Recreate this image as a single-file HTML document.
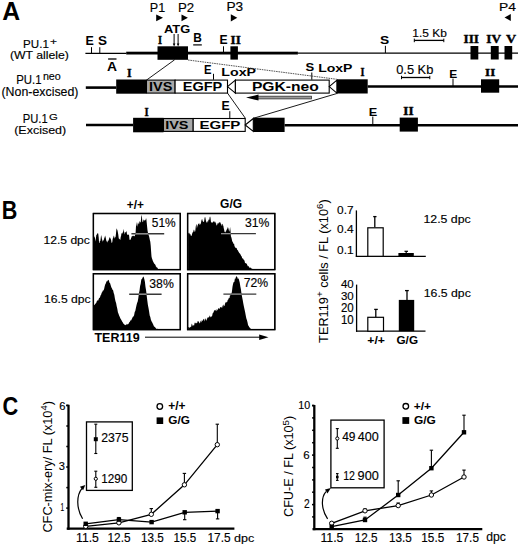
<!DOCTYPE html>
<html><head><meta charset="utf-8"><style>
html,body{margin:0;padding:0;background:#fff;}
body{width:520px;height:546px;overflow:hidden;}
svg{display:block;}

</style></head><body>
<svg width="520" height="546" viewBox="0 0 520 546">
<rect width="520" height="546" fill="#fff"/>
<text x="2.30" y="20.20" font-family='"Liberation Sans", sans-serif' font-size="26.31" font-weight="bold" fill="#000" textLength="17.90" lengthAdjust="spacingAndGlyphs" >A</text>
<text x="149.80" y="11.50" font-family='"Liberation Sans", sans-serif' font-size="12.5" font-weight="normal" fill="#000" textLength="15.40" lengthAdjust="spacingAndGlyphs"  stroke="#000" stroke-width="0.15" stroke-linejoin="round">P1</text>
<text x="178.00" y="11.50" font-family='"Liberation Sans", sans-serif' font-size="12.32" font-weight="normal" fill="#000" textLength="16.20" lengthAdjust="spacingAndGlyphs"  stroke="#000" stroke-width="0.15" stroke-linejoin="round">P2</text>
<text x="226.40" y="11.08" font-family='"Liberation Sans", sans-serif' font-size="12.01" font-weight="normal" fill="#000" textLength="16.70" lengthAdjust="spacingAndGlyphs"  stroke="#000" stroke-width="0.15" stroke-linejoin="round">P3</text>
<text x="499.10" y="10.80" font-family='"Liberation Sans", sans-serif' font-size="11.34" font-weight="normal" fill="#000" textLength="16.90" lengthAdjust="spacingAndGlyphs"  stroke="#000" stroke-width="0.15" stroke-linejoin="round">P4</text>
<path d="M156.2,14.4 L163.0,17.85 L156.2,21.3 Z" fill="#000" stroke="none" stroke-width="1" />
<path d="M181.5,14.4 L187.9,17.85 L181.5,21.3 Z" fill="#000" stroke="none" stroke-width="1" />
<path d="M230.8,14.2 L237.3,17.85 L230.8,21.5 Z" fill="#000" stroke="none" stroke-width="1" />
<path d="M510.8,14.1 L504.5,17.5 L510.8,20.9 Z" fill="#000" stroke="none" stroke-width="1" />
<text x="164.00" y="32.59" font-family='"Liberation Sans", sans-serif' font-size="11.44" font-weight="bold" fill="#000" textLength="26.20" lengthAdjust="spacingAndGlyphs" >ATG</text>
<line x1="174.10" y1="34.00" x2="174.10" y2="44.50" stroke="#000" stroke-width="1.0" />
<line x1="178.10" y1="34.00" x2="178.10" y2="44.50" stroke="#000" stroke-width="1.0" />
<path d="M172.8,43.6 L175.4,43.6 L174.1,46.5 Z" fill="#000" stroke="none" stroke-width="1" />
<path d="M176.8,43.6 L179.4,43.6 L178.1,46.5 Z" fill="#000" stroke="none" stroke-width="1" />
<line x1="85.40" y1="53.40" x2="126.20" y2="53.40" stroke="#000" stroke-width="1.2" />
<rect x="126.20" y="51.70" width="171.70" height="2.80" fill="#000"/>
<line x1="297.90" y1="53.10" x2="518.00" y2="53.10" stroke="#000" stroke-width="1.2" />
<line x1="91.50" y1="47.20" x2="91.50" y2="53.50" stroke="#000" stroke-width="1" />
<line x1="99.80" y1="47.20" x2="99.80" y2="53.50" stroke="#000" stroke-width="1" />
<line x1="223.50" y1="46.30" x2="223.50" y2="53.00" stroke="#000" stroke-width="1" />
<line x1="385.40" y1="45.80" x2="385.40" y2="53.00" stroke="#000" stroke-width="1" />
<text x="85.50" y="45.20" font-family='"Liberation Sans", sans-serif' font-size="12.79" font-weight="bold" fill="#000" textLength="8.30" lengthAdjust="spacingAndGlyphs" >E</text>
<text x="98.00" y="45.27" font-family='"Liberation Sans", sans-serif' font-size="12.99" font-weight="bold" fill="#000" textLength="9.00" lengthAdjust="spacingAndGlyphs" >S</text>
<rect x="157.50" y="46.30" width="30.50" height="13.50" fill="#000"/>
<rect x="230.40" y="46.30" width="7.50" height="13.30" fill="#000"/>
<rect x="470.50" y="46.00" width="7.80" height="13.50" fill="#000"/>
<rect x="490.80" y="46.00" width="7.90" height="13.50" fill="#000"/>
<rect x="504.50" y="46.00" width="7.70" height="13.50" fill="#000"/>
<text x="157.90" y="43.70" font-family='"Liberation Serif", serif' font-size="11.45" font-weight="bold" fill="#000" textLength="4.00" lengthAdjust="spacingAndGlyphs"  stroke="#000" stroke-width="0.4" stroke-linejoin="round">I</text>
<text x="193.20" y="42.30" font-family='"Liberation Sans", sans-serif' font-size="12.5" font-weight="bold" fill="#000" textLength="8.60" lengthAdjust="spacingAndGlyphs" >B</text>
<line x1="193.20" y1="44.90" x2="201.80" y2="44.90" stroke="#000" stroke-width="1.2" />
<text x="219.40" y="44.40" font-family='"Liberation Sans", sans-serif' font-size="12.21" font-weight="bold" fill="#000" textLength="8.10" lengthAdjust="spacingAndGlyphs" >E</text>
<text x="230.60" y="44.00" font-family='"Liberation Serif", serif' font-size="13.13" font-weight="bold" fill="#000" textLength="10.20" lengthAdjust="spacingAndGlyphs"  stroke="#000" stroke-width="0.4" stroke-linejoin="round">II</text>
<text x="380.00" y="44.29" font-family='"Liberation Sans", sans-serif' font-size="11.44" font-weight="bold" fill="#000" textLength="9.20" lengthAdjust="spacingAndGlyphs" >S</text>
<text x="412.30" y="36.89" font-family='"Liberation Sans", sans-serif' font-size="11.16" font-weight="normal" fill="#000" textLength="34.60" lengthAdjust="spacingAndGlyphs"  stroke="#000" stroke-width="0.15" stroke-linejoin="round">1.5 Kb</text>
<line x1="414.30" y1="40.40" x2="443.80" y2="40.40" stroke="#000" stroke-width="1.3" />
<line x1="414.30" y1="38.60" x2="414.30" y2="42.20" stroke="#000" stroke-width="1" />
<line x1="443.80" y1="38.60" x2="443.80" y2="42.20" stroke="#000" stroke-width="1" />
<text x="463.50" y="43.30" font-family='"Liberation Serif", serif' font-size="13.13" font-weight="bold" fill="#000" textLength="15.51" lengthAdjust="spacingAndGlyphs"  stroke="#000" stroke-width="0.4" stroke-linejoin="round">III</text>
<text x="486.30" y="43.11" font-family='"Liberation Serif", serif' font-size="12.84" font-weight="bold" fill="#000" textLength="14.80" lengthAdjust="spacingAndGlyphs"  stroke="#000" stroke-width="0.4" stroke-linejoin="round">IV</text>
<text x="505.90" y="43.11" font-family='"Liberation Serif", serif' font-size="12.84" font-weight="bold" fill="#000" textLength="10.10" lengthAdjust="spacingAndGlyphs"  stroke="#000" stroke-width="0.4" stroke-linejoin="round">V</text>
<text x="23.10" y="48.19" font-family='"Liberation Sans", sans-serif' font-size="11.03" font-weight="normal" fill="#000" textLength="25.80" lengthAdjust="spacingAndGlyphs"  stroke="#000" stroke-width="0.15" stroke-linejoin="round">PU.1</text>
<text x="50.00" y="45.20" font-family='"Liberation Sans", sans-serif' font-size="9.36" font-weight="normal" fill="#000" textLength="7.00" lengthAdjust="spacingAndGlyphs"  stroke="#000" stroke-width="0.15" stroke-linejoin="round">+</text>
<text x="10.00" y="59.18" font-family='"Liberation Sans", sans-serif' font-size="10.73" font-weight="normal" fill="#000" textLength="58.91" lengthAdjust="spacingAndGlyphs"  stroke="#000" stroke-width="0.15" stroke-linejoin="round">(WT allele)</text>
<text x="107.10" y="70.80" font-family='"Liberation Sans", sans-serif' font-size="13.23" font-weight="bold" fill="#000" textLength="10.00" lengthAdjust="spacingAndGlyphs" >A</text>
<line x1="108.10" y1="59.00" x2="116.50" y2="59.00" stroke="#000" stroke-width="1.3" />
<text x="126.90" y="76.70" font-family='"Liberation Serif", serif' font-size="12.98" font-weight="bold" fill="#000" textLength="4.60" lengthAdjust="spacingAndGlyphs"  stroke="#000" stroke-width="0.4" stroke-linejoin="round">I</text>
<line x1="85.80" y1="87.60" x2="116.20" y2="87.60" stroke="#000" stroke-width="2.6" />
<rect x="116.20" y="79.50" width="30.30" height="14.20" fill="#000"/>
<rect x="146.50" y="80.10" width="28.60" height="13.00" fill="#a9a9a9" stroke="#000" stroke-width="1.1"/>
<rect x="175.10" y="80.10" width="52.40" height="13.00" fill="#fff" stroke="#000" stroke-width="1.1"/>
<text x="149.00" y="90.88" font-family='"Liberation Sans", sans-serif' font-size="12.01" font-weight="bold" fill="#000" textLength="23.30" lengthAdjust="spacingAndGlyphs" >IVS</text>
<text x="182.70" y="90.88" font-family='"Liberation Sans", sans-serif' font-size="12.29" font-weight="bold" fill="#000" textLength="39.60" lengthAdjust="spacingAndGlyphs" >EGFP</text>
<path d="M227.5,86.6 L235.4,80.1 L235.4,93.1 Z" fill="#fff" stroke="#000" stroke-width="1.1" />
<rect x="235.40" y="80.10" width="93.80" height="13.00" fill="#fff" stroke="#000" stroke-width="1.1"/>
<path d="M329.2,86.6 L336.9,80.1 L336.9,93.1 Z" fill="#fff" stroke="#000" stroke-width="1.1" />
<text x="251.90" y="91.07" font-family='"Liberation Sans", sans-serif' font-size="13.14" font-weight="bold" fill="#000" textLength="66.90" lengthAdjust="spacingAndGlyphs" >PGK-neo</text>
<rect x="336.90" y="79.30" width="30.80" height="14.20" fill="#000"/>
<line x1="367.70" y1="86.50" x2="518.00" y2="86.50" stroke="#000" stroke-width="2.6" />
<text x="204.00" y="73.80" font-family='"Liberation Sans", sans-serif' font-size="12.5" font-weight="bold" fill="#000" textLength="7.50" lengthAdjust="spacingAndGlyphs" >E</text>
<line x1="213.50" y1="73.80" x2="213.50" y2="79.70" stroke="#000" stroke-width="1" />
<text x="221.30" y="76.08" font-family='"Liberation Sans", sans-serif' font-size="11.6" font-weight="bold" fill="#000" textLength="34.70" lengthAdjust="spacingAndGlyphs" >LoxP</text>
<text x="305.40" y="71.39" font-family='"Liberation Sans", sans-serif' font-size="11.44" font-weight="bold" fill="#000" textLength="8.70" lengthAdjust="spacingAndGlyphs" >S</text>
<line x1="311.80" y1="72.50" x2="311.80" y2="79.70" stroke="#000" stroke-width="1" />
<text x="318.20" y="71.99" font-family='"Liberation Sans", sans-serif' font-size="11.46" font-weight="bold" fill="#000" textLength="34.30" lengthAdjust="spacingAndGlyphs" >LoxP</text>
<text x="360.60" y="76.20" font-family='"Liberation Serif", serif' font-size="12.37" font-weight="bold" fill="#000" textLength="4.00" lengthAdjust="spacingAndGlyphs"  stroke="#000" stroke-width="0.4" stroke-linejoin="round">I</text>
<text x="396.20" y="73.87" font-family='"Liberation Sans", sans-serif' font-size="12.52" font-weight="normal" fill="#000" textLength="37.10" lengthAdjust="spacingAndGlyphs"  stroke="#000" stroke-width="0.15" stroke-linejoin="round">0.5 Kb</text>
<line x1="401.50" y1="77.50" x2="429.80" y2="77.50" stroke="#000" stroke-width="1.3" />
<line x1="401.50" y1="75.80" x2="401.50" y2="79.20" stroke="#000" stroke-width="1" />
<line x1="429.80" y1="75.80" x2="429.80" y2="79.20" stroke="#000" stroke-width="1" />
<text x="449.20" y="77.90" font-family='"Liberation Sans", sans-serif' font-size="11.77" font-weight="bold" fill="#000" textLength="8.00" lengthAdjust="spacingAndGlyphs" >E</text>
<line x1="453.00" y1="78.60" x2="453.00" y2="86.00" stroke="#000" stroke-width="1" />
<text x="485.10" y="75.90" font-family='"Liberation Serif", serif' font-size="11.3" font-weight="bold" fill="#000" textLength="10.10" lengthAdjust="spacingAndGlyphs"  stroke="#000" stroke-width="0.4" stroke-linejoin="round">II</text>
<rect x="481.00" y="79.30" width="18.20" height="13.40" fill="#000"/>
<rect x="257.00" y="96.20" width="54.50" height="2.70" fill="#9a9a9a" stroke="#333" stroke-width="0.8"/>
<path d="M246.0,97.6 L258.5,94.6 L258.5,100.6 Z" fill="#000" stroke="none" stroke-width="1" />
<text x="16.20" y="83.68" font-family='"Liberation Sans", sans-serif' font-size="12.03" font-weight="normal" fill="#000" textLength="25.30" lengthAdjust="spacingAndGlyphs"  stroke="#000" stroke-width="0.15" stroke-linejoin="round">PU.1</text>
<text x="42.90" y="80.09" font-family='"Liberation Sans", sans-serif' font-size="10.95" font-weight="normal" fill="#000" textLength="17.91" lengthAdjust="spacingAndGlyphs"  stroke="#000" stroke-width="0.15" stroke-linejoin="round">neo</text>
<text x="1.50" y="95.86" font-family='"Liberation Sans", sans-serif' font-size="12.77" font-weight="normal" fill="#000" textLength="77.00" lengthAdjust="spacingAndGlyphs"  stroke="#000" stroke-width="0.15" stroke-linejoin="round">(Non-excised)</text>
<line x1="174.60" y1="59.80" x2="146.50" y2="80.10" stroke="#000" stroke-width="0.9" />
<line x1="188.00" y1="60.00" x2="336.90" y2="79.30" stroke="#444" stroke-width="0.9" stroke-dasharray="1.6,0.8"/>
<line x1="227.50" y1="93.10" x2="245.40" y2="118.30" stroke="#000" stroke-width="0.9" />
<line x1="336.90" y1="93.50" x2="253.30" y2="118.30" stroke="#000" stroke-width="0.9" />
<line x1="86.00" y1="124.90" x2="133.10" y2="124.90" stroke="#000" stroke-width="2.5" />
<rect x="133.10" y="117.80" width="30.40" height="14.50" fill="#000"/>
<rect x="163.50" y="118.50" width="29.70" height="12.90" fill="#a9a9a9" stroke="#000" stroke-width="1.1"/>
<rect x="193.20" y="118.50" width="52.00" height="12.90" fill="#fff" stroke="#000" stroke-width="1.1"/>
<text x="165.20" y="128.78" font-family='"Liberation Sans", sans-serif' font-size="11.72" font-weight="bold" fill="#000" textLength="23.30" lengthAdjust="spacingAndGlyphs" >IVS</text>
<text x="199.40" y="128.78" font-family='"Liberation Sans", sans-serif' font-size="11.72" font-weight="bold" fill="#000" textLength="41.00" lengthAdjust="spacingAndGlyphs" >EGFP</text>
<path d="M245.2,125 L253.3,118.5 L253.3,131.4 Z" fill="#fff" stroke="#000" stroke-width="1.1" />
<rect x="253.30" y="117.70" width="31.30" height="14.30" fill="#000"/>
<line x1="284.60" y1="125.20" x2="518.00" y2="125.20" stroke="#000" stroke-width="2.5" />
<text x="144.60" y="116.30" font-family='"Liberation Serif", serif' font-size="13.13" font-weight="bold" fill="#000" textLength="4.20" lengthAdjust="spacingAndGlyphs"  stroke="#000" stroke-width="0.4" stroke-linejoin="round">I</text>
<text x="221.40" y="109.80" font-family='"Liberation Sans", sans-serif' font-size="12.79" font-weight="bold" fill="#000" textLength="8.20" lengthAdjust="spacingAndGlyphs" >E</text>
<line x1="229.80" y1="111.20" x2="229.80" y2="118.50" stroke="#000" stroke-width="1" />
<text x="368.70" y="115.90" font-family='"Liberation Sans", sans-serif' font-size="11.34" font-weight="bold" fill="#000" textLength="8.50" lengthAdjust="spacingAndGlyphs" >E</text>
<line x1="372.80" y1="116.60" x2="372.80" y2="125.00" stroke="#000" stroke-width="1" />
<text x="403.30" y="115.10" font-family='"Liberation Serif", serif' font-size="11.76" font-weight="bold" fill="#000" textLength="10.30" lengthAdjust="spacingAndGlyphs"  stroke="#000" stroke-width="0.4" stroke-linejoin="round">II</text>
<rect x="399.70" y="117.60" width="18.20" height="14.00" fill="#000"/>
<text x="22.80" y="123.27" font-family='"Liberation Sans", sans-serif' font-size="12.61" font-weight="normal" fill="#000" textLength="24.90" lengthAdjust="spacingAndGlyphs"  stroke="#000" stroke-width="0.15" stroke-linejoin="round">PU.1</text>
<text x="48.90" y="119.91" font-family='"Liberation Sans", sans-serif' font-size="9.18" font-weight="normal" fill="#000" textLength="8.80" lengthAdjust="spacingAndGlyphs"  stroke="#000" stroke-width="0.15" stroke-linejoin="round">G</text>
<text x="14.20" y="133.98" font-family='"Liberation Sans", sans-serif' font-size="10.73" font-weight="normal" fill="#000" textLength="51.99" lengthAdjust="spacingAndGlyphs"  stroke="#000" stroke-width="0.15" stroke-linejoin="round">(Excised)</text>
<text x="1.70" y="219.20" font-family='"Liberation Sans", sans-serif' font-size="26.02" font-weight="bold" fill="#000" textLength="15.60" lengthAdjust="spacingAndGlyphs" >B</text>
<text x="126.80" y="208.76" font-family='"Liberation Sans", sans-serif' font-size="12.08" font-weight="bold" fill="#000" textLength="17.10" lengthAdjust="spacingAndGlyphs" >+/+</text>
<text x="220.10" y="208.46" font-family='"Liberation Sans", sans-serif' font-size="12.21" font-weight="bold" fill="#000" textLength="22.01" lengthAdjust="spacingAndGlyphs" >G/G</text>
<text x="43.50" y="243.66" font-family='"Liberation Sans", sans-serif' font-size="11.25" font-weight="normal" fill="#000" textLength="46.41" lengthAdjust="spacingAndGlyphs"  stroke="#000" stroke-width="0.15" stroke-linejoin="round">12.5 dpc</text>
<text x="44.10" y="302.94" font-family='"Liberation Sans", sans-serif' font-size="11.36" font-weight="normal" fill="#000" textLength="46.51" lengthAdjust="spacingAndGlyphs"  stroke="#000" stroke-width="0.15" stroke-linejoin="round">16.5 dpc</text>
<text x="94.50" y="341.67" font-family='"Liberation Sans", sans-serif' font-size="12.57" font-weight="bold" fill="#000" textLength="45.10" lengthAdjust="spacingAndGlyphs" >TER119</text>
<line x1="145.00" y1="337.20" x2="262.00" y2="337.20" stroke="#000" stroke-width="1.0" />
<path d="M268.5,337.3 L259.2,334.6 L259.2,340.0 Z" fill="#000" stroke="none" stroke-width="1" />
<rect x="93.4" y="213.5" width="86.9" height="56.10000000000002" fill="#fff" stroke="#000" stroke-width="1.3"/>
<rect x="187.6" y="213.5" width="87.20000000000002" height="56.10000000000002" fill="#fff" stroke="#000" stroke-width="1.3"/>
<rect x="93.4" y="273.7" width="86.9" height="55.900000000000034" fill="#fff" stroke="#000" stroke-width="1.3"/>
<rect x="187.6" y="273.7" width="87.20000000000002" height="55.900000000000034" fill="#fff" stroke="#000" stroke-width="1.3"/>
<path d="M93.9,269.6 L93.90,236.34 L94.30,236.57 L94.70,237.37 L95.10,238.51 L95.50,241.46 L95.90,238.78 L96.30,235.05 L96.70,234.80 L97.10,234.09 L97.50,233.48 L97.90,232.80 L98.30,234.11 L98.70,237.51 L99.10,242.95 L99.50,243.07 L99.90,240.83 L100.30,241.14 L100.70,238.37 L101.10,234.96 L101.50,236.53 L101.90,238.63 L102.30,240.12 L102.70,241.74 L103.10,240.86 L103.50,240.31 L103.90,239.59 L104.30,237.89 L104.70,237.21 L105.10,235.53 L105.50,236.82 L105.90,238.56 L106.30,240.53 L106.70,241.19 L107.10,242.51 L107.50,242.02 L107.90,240.57 L108.30,241.10 L108.70,240.11 L109.10,238.80 L109.50,237.54 L109.90,237.16 L110.30,237.94 L110.70,239.03 L111.10,239.75 L111.50,242.55 L111.90,243.02 L112.30,241.92 L112.70,238.83 L113.10,238.01 L113.50,236.44 L113.90,235.52 L114.30,236.93 L114.70,238.64 L115.10,237.07 L115.50,237.60 L115.90,234.34 L116.30,230.28 L116.70,228.16 L117.10,229.38 L117.50,230.56 L117.90,232.46 L118.30,234.85 L118.70,237.95 L119.10,239.21 L119.50,238.57 L119.90,239.62 L120.30,240.06 L120.70,237.01 L121.10,235.67 L121.50,232.83 L121.90,233.67 L122.30,233.42 L122.70,232.43 L123.10,231.90 L123.50,228.86 L123.90,231.24 L124.30,232.32 L124.70,234.40 L125.10,232.86 L125.50,231.90 L125.90,232.36 L126.30,230.91 L126.70,231.93 L127.10,235.33 L127.50,234.60 L127.90,234.38 L128.30,234.78 L128.70,234.41 L129.10,235.43 L129.50,239.60 L129.90,240.11 L130.30,239.45 L130.70,239.82 L131.10,238.06 L131.50,237.19 L131.90,235.90 L132.30,235.66 L132.70,236.46 L133.10,235.57 L133.50,236.36 L133.90,235.86 L134.30,235.89 L134.70,236.42 L135.10,234.79 L135.50,234.40 L135.90,227.85 L136.30,221.83 L136.70,225.30 L137.10,226.64 L137.50,224.84 L137.90,222.49 L138.30,222.76 L138.70,224.37 L139.10,223.92 L139.50,220.96 L139.90,221.80 L140.30,222.33 L140.70,222.40 L141.10,218.52 L141.50,214.64 L141.90,216.38 L142.30,220.89 L142.70,222.36 L143.10,221.83 L143.50,219.29 L143.90,220.15 L144.30,220.45 L144.70,220.59 L145.10,219.81 L145.50,220.48 L145.90,218.59 L146.30,218.54 L146.70,222.47 L147.10,226.58 L147.50,230.17 L147.90,232.56 L148.30,234.61 L148.70,235.36 L149.10,236.45 L149.50,238.23 L149.90,240.27 L150.30,241.86 L150.70,245.62 L151.10,251.17 L151.50,256.60 L151.90,258.23 L152.30,259.30 L152.70,260.61 L153.10,261.57 L153.50,262.20 L153.90,263.11 L154.30,263.66 L154.70,263.95 L155.10,264.50 L155.50,265.12 L155.90,266.47 L156.30,266.86 L156.70,267.53 L157.10,267.25 L157.50,268.21 L157.90,268.56 L158.30,269.23 L158.70,269.02 L159.10,269.58 L159.50,268.85 L159.90,269.24 L160.30,269.40 L160.70,269.54 L161.10,269.42 L161.50,269.41 L161.90,269.49 L162.30,269.60 L162.70,269.16 L163.10,269.44 L163.50,269.60 L163.90,269.60 L164.30,269.26 L164.70,269.57 L165.10,269.60 L165.50,269.41 L165.90,269.47 L166.30,269.28 L166.70,269.45 L167.10,269.49 L167.50,269.07 L167.90,269.53 L168.30,269.60 L168.70,269.60 L169.10,269.60 L169.50,269.37 L169.90,269.60 L170.30,269.55 L170.70,269.45 L171.10,269.60 L171.50,269.19 L171.90,269.60 L172.30,269.16 L172.70,269.60 L173.10,269.55 L173.50,269.36 L173.90,269.60 L174.30,269.59 L174.70,269.60 L175.10,269.60 L175.50,269.43 L175.90,269.25 L176.30,269.49 L176.70,269.60 L177.10,269.43 L177.50,269.42 L177.90,269.60 L178.30,269.60 L178.70,269.60 L179.10,269.60 L179.50,269.60 L179.8,269.6 Z" fill="#000"/>
<path d="M188.1,269.6 L188.10,233.05 L188.50,232.68 L188.90,233.83 L189.30,232.60 L189.70,234.14 L190.10,234.28 L190.50,234.27 L190.90,236.06 L191.30,235.82 L191.70,235.65 L192.10,233.81 L192.50,232.68 L192.90,232.09 L193.30,231.66 L193.70,229.80 L194.10,229.71 L194.50,230.91 L194.90,232.13 L195.30,230.85 L195.70,227.01 L196.10,224.85 L196.50,223.96 L196.90,228.43 L197.30,226.38 L197.70,225.26 L198.10,224.26 L198.50,223.60 L198.90,223.64 L199.30,223.13 L199.70,224.90 L200.10,224.86 L200.50,223.75 L200.90,223.42 L201.30,221.04 L201.70,219.71 L202.10,218.72 L202.50,220.54 L202.90,221.45 L203.30,221.79 L203.70,222.11 L204.10,221.54 L204.50,218.56 L204.90,217.01 L205.30,217.19 L205.70,219.62 L206.10,221.59 L206.50,222.01 L206.90,223.04 L207.30,222.19 L207.70,220.70 L208.10,221.80 L208.50,219.50 L208.90,219.76 L209.30,219.65 L209.70,216.99 L210.10,216.42 L210.50,217.74 L210.90,221.43 L211.30,222.44 L211.70,222.30 L212.10,223.25 L212.50,222.11 L212.90,222.45 L213.30,221.74 L213.70,221.22 L214.10,221.09 L214.50,222.09 L214.90,222.47 L215.30,221.58 L215.70,223.23 L216.10,223.14 L216.50,225.78 L216.90,224.97 L217.30,224.41 L217.70,223.18 L218.10,222.52 L218.50,223.26 L218.90,223.71 L219.30,221.89 L219.70,222.46 L220.10,222.08 L220.50,222.91 L220.90,223.73 L221.30,226.23 L221.70,224.30 L222.10,224.04 L222.50,223.83 L222.90,225.87 L223.30,225.61 L223.70,227.89 L224.10,229.58 L224.50,231.78 L224.90,232.01 L225.30,232.48 L225.70,231.57 L226.10,231.35 L226.50,229.81 L226.90,229.55 L227.30,228.71 L227.70,227.17 L228.10,227.47 L228.50,228.85 L228.90,230.45 L229.30,231.68 L229.70,229.79 L230.10,226.96 L230.50,230.57 L230.90,236.20 L231.30,237.25 L231.70,238.84 L232.10,240.86 L232.50,241.70 L232.90,242.19 L233.30,243.17 L233.70,244.08 L234.10,243.78 L234.50,246.13 L234.90,246.75 L235.30,247.60 L235.70,247.98 L236.10,247.77 L236.50,248.36 L236.90,248.56 L237.30,250.24 L237.70,249.94 L238.10,250.67 L238.50,251.65 L238.90,252.21 L239.30,253.14 L239.70,253.23 L240.10,253.74 L240.50,254.62 L240.90,255.14 L241.30,256.21 L241.70,256.19 L242.10,258.31 L242.50,258.43 L242.90,258.18 L243.30,258.96 L243.70,259.72 L244.10,260.35 L244.50,260.50 L244.90,262.40 L245.30,263.25 L245.70,262.91 L246.10,263.56 L246.50,263.46 L246.90,264.11 L247.30,265.16 L247.70,265.64 L248.10,266.95 L248.50,266.04 L248.90,266.09 L249.30,268.05 L249.70,267.59 L250.10,267.38 L250.50,267.79 L250.90,267.74 L251.30,268.20 L251.70,268.64 L252.10,268.79 L252.50,268.92 L252.90,268.92 L253.30,269.18 L253.70,269.14 L254.10,269.45 L254.50,269.34 L254.90,269.47 L255.30,269.25 L255.70,269.20 L256.10,269.51 L256.50,269.60 L256.90,269.54 L257.30,269.53 L257.70,269.54 L258.10,269.51 L258.50,269.26 L258.90,269.41 L259.30,269.34 L259.70,269.18 L260.10,269.19 L260.50,269.32 L260.90,269.32 L261.30,269.54 L261.70,269.60 L262.10,269.44 L262.50,269.60 L262.90,269.60 L263.30,269.60 L263.70,269.42 L264.10,269.36 L264.50,269.37 L264.90,269.36 L265.30,269.37 L265.70,269.59 L266.10,269.60 L266.50,269.60 L266.90,269.54 L267.30,269.60 L267.70,269.60 L268.10,269.37 L268.50,269.60 L268.90,269.60 L269.30,269.60 L269.70,269.60 L270.10,269.60 L270.50,269.46 L270.90,269.60 L271.30,269.55 L271.70,269.60 L272.10,269.60 L272.50,269.60 L272.90,269.60 L273.30,269.60 L273.70,269.60 L274.10,269.52 L274.3,269.6 Z" fill="#000"/>
<path d="M93.9,329.6 L93.90,305.25 L94.50,304.96 L95.10,303.89 L95.70,303.49 L96.30,302.77 L96.90,301.12 L97.50,300.29 L98.10,300.86 L98.70,299.02 L99.30,297.75 L99.90,297.73 L100.50,295.57 L101.10,294.74 L101.70,292.75 L102.30,292.05 L102.90,290.53 L103.50,290.56 L104.10,288.96 L104.70,286.18 L105.30,284.31 L105.90,283.21 L106.50,281.25 L107.10,281.44 L107.70,280.62 L108.30,279.87 L108.90,280.42 L109.50,282.75 L110.10,283.31 L110.70,285.29 L111.30,287.13 L111.90,288.28 L112.50,289.85 L113.10,290.24 L113.70,292.94 L114.30,294.82 L114.90,298.39 L115.50,301.15 L116.10,302.97 L116.70,306.14 L117.30,308.67 L117.90,312.26 L118.50,313.68 L119.10,315.58 L119.70,316.64 L120.30,318.37 L120.90,319.20 L121.50,320.17 L122.10,321.44 L122.70,322.20 L123.30,323.48 L123.90,323.88 L124.50,324.66 L125.10,324.84 L125.70,325.36 L126.30,324.69 L126.90,323.63 L127.50,324.50 L128.10,324.34 L128.70,323.52 L129.30,322.25 L129.90,321.75 L130.50,320.21 L131.10,320.44 L131.70,319.27 L132.30,318.05 L132.90,316.63 L133.50,316.52 L134.10,315.36 L134.70,311.98 L135.30,310.90 L135.90,308.05 L136.50,305.26 L137.10,303.09 L137.70,301.45 L138.30,298.19 L138.90,293.43 L139.50,290.73 L140.10,286.11 L140.70,283.69 L141.30,279.62 L141.90,278.93 L142.50,277.89 L143.10,276.42 L143.70,277.11 L144.30,278.96 L144.90,281.76 L145.50,286.91 L146.10,290.52 L146.70,295.75 L147.30,300.57 L147.90,304.90 L148.50,308.02 L149.10,311.55 L149.70,315.61 L150.30,316.97 L150.90,319.84 L151.50,321.36 L152.10,322.15 L152.70,323.56 L153.30,324.85 L153.90,326.25 L154.50,326.80 L155.10,327.37 L155.70,328.09 L156.30,329.11 L156.90,328.69 L157.50,328.84 L158.10,329.57 L158.70,329.07 L159.30,329.31 L159.90,329.60 L160.50,329.60 L161.10,329.60 L161.70,328.88 L162.30,329.53 L162.90,329.60 L163.50,328.92 L164.10,329.60 L164.70,329.60 L165.30,329.00 L165.90,329.60 L166.50,329.60 L167.10,329.60 L167.70,329.51 L168.30,329.60 L168.90,329.60 L169.50,329.00 L170.10,329.07 L170.70,329.60 L171.30,329.60 L171.90,329.40 L172.50,329.60 L173.10,329.60 L173.70,329.54 L174.30,329.60 L174.90,329.54 L175.50,329.60 L176.10,329.60 L176.70,329.55 L177.30,329.60 L177.90,329.60 L178.50,329.14 L179.10,329.60 L179.70,329.60 L179.8,329.6 Z" fill="#000"/>
<path d="M188.1,329.6 L188.10,327.05 L188.70,327.37 L189.30,327.46 L189.90,327.74 L190.50,326.72 L191.10,327.04 L191.70,323.60 L192.30,324.84 L192.90,326.23 L193.50,324.91 L194.10,325.50 L194.70,322.52 L195.30,323.54 L195.90,322.53 L196.50,323.35 L197.10,323.23 L197.70,321.04 L198.30,321.52 L198.90,321.52 L199.50,323.52 L200.10,322.78 L200.70,320.43 L201.30,322.44 L201.90,319.92 L202.50,321.37 L203.10,319.43 L203.70,318.72 L204.30,321.47 L204.90,318.87 L205.50,318.60 L206.10,320.66 L206.70,319.65 L207.30,316.98 L207.90,318.82 L208.50,317.05 L209.10,317.25 L209.70,315.31 L210.30,317.52 L210.90,316.20 L211.50,316.72 L212.10,316.03 L212.70,313.27 L213.30,312.70 L213.90,311.22 L214.50,310.36 L215.10,309.84 L215.70,310.44 L216.30,311.26 L216.90,308.85 L217.50,310.56 L218.10,308.72 L218.70,307.97 L219.30,309.23 L219.90,307.78 L220.50,306.95 L221.10,307.26 L221.70,307.74 L222.30,305.12 L222.90,307.98 L223.50,304.29 L224.10,306.04 L224.70,305.48 L225.30,301.70 L225.90,303.51 L226.50,301.74 L227.10,302.20 L227.70,299.92 L228.30,299.45 L228.90,297.75 L229.50,298.29 L230.10,294.54 L230.70,295.40 L231.30,294.90 L231.90,291.84 L232.50,286.65 L233.10,283.63 L233.70,281.90 L234.30,281.93 L234.90,278.41 L235.50,278.80 L236.10,276.25 L236.70,276.49 L237.30,277.14 L237.90,278.96 L238.50,278.20 L239.10,280.22 L239.70,282.54 L240.30,286.33 L240.90,289.35 L241.50,293.70 L242.10,296.88 L242.70,300.10 L243.30,303.53 L243.90,306.42 L244.50,309.20 L245.10,311.89 L245.70,315.19 L246.30,318.35 L246.90,319.96 L247.50,322.28 L248.10,325.17 L248.70,326.03 L249.30,327.29 L249.90,327.72 L250.50,328.61 L251.10,329.36 L251.70,329.39 L252.30,329.36 L252.90,328.93 L253.50,329.60 L254.10,328.92 L254.70,329.48 L255.30,329.60 L255.90,329.07 L256.50,329.60 L257.10,329.60 L257.70,329.60 L258.30,329.60 L258.90,329.09 L259.50,329.50 L260.10,329.16 L260.70,329.60 L261.30,329.36 L261.90,329.56 L262.50,329.60 L263.10,329.60 L263.70,329.60 L264.30,329.60 L264.90,329.60 L265.50,329.60 L266.10,329.60 L266.70,329.45 L267.30,329.59 L267.90,329.30 L268.50,329.58 L269.10,329.60 L269.70,329.60 L270.30,329.60 L270.90,329.60 L271.50,329.59 L272.10,329.30 L272.70,329.53 L273.30,329.60 L273.90,329.60 L274.3,329.6 Z" fill="#000"/>
<rect x="93.4" y="213.5" width="86.9" height="56.10000000000002" fill="none" stroke="#000" stroke-width="1.3"/>
<rect x="187.6" y="213.5" width="87.20000000000002" height="56.10000000000002" fill="none" stroke="#000" stroke-width="1.3"/>
<rect x="93.4" y="273.7" width="86.9" height="55.900000000000034" fill="none" stroke="#000" stroke-width="1.3"/>
<rect x="187.6" y="273.7" width="87.20000000000002" height="55.900000000000034" fill="none" stroke="#000" stroke-width="1.3"/>
<clipPath id="hc0"><path d="M93.9,269.6 L93.90,236.34 L94.30,236.57 L94.70,237.37 L95.10,238.51 L95.50,241.46 L95.90,238.78 L96.30,235.05 L96.70,234.80 L97.10,234.09 L97.50,233.48 L97.90,232.80 L98.30,234.11 L98.70,237.51 L99.10,242.95 L99.50,243.07 L99.90,240.83 L100.30,241.14 L100.70,238.37 L101.10,234.96 L101.50,236.53 L101.90,238.63 L102.30,240.12 L102.70,241.74 L103.10,240.86 L103.50,240.31 L103.90,239.59 L104.30,237.89 L104.70,237.21 L105.10,235.53 L105.50,236.82 L105.90,238.56 L106.30,240.53 L106.70,241.19 L107.10,242.51 L107.50,242.02 L107.90,240.57 L108.30,241.10 L108.70,240.11 L109.10,238.80 L109.50,237.54 L109.90,237.16 L110.30,237.94 L110.70,239.03 L111.10,239.75 L111.50,242.55 L111.90,243.02 L112.30,241.92 L112.70,238.83 L113.10,238.01 L113.50,236.44 L113.90,235.52 L114.30,236.93 L114.70,238.64 L115.10,237.07 L115.50,237.60 L115.90,234.34 L116.30,230.28 L116.70,228.16 L117.10,229.38 L117.50,230.56 L117.90,232.46 L118.30,234.85 L118.70,237.95 L119.10,239.21 L119.50,238.57 L119.90,239.62 L120.30,240.06 L120.70,237.01 L121.10,235.67 L121.50,232.83 L121.90,233.67 L122.30,233.42 L122.70,232.43 L123.10,231.90 L123.50,228.86 L123.90,231.24 L124.30,232.32 L124.70,234.40 L125.10,232.86 L125.50,231.90 L125.90,232.36 L126.30,230.91 L126.70,231.93 L127.10,235.33 L127.50,234.60 L127.90,234.38 L128.30,234.78 L128.70,234.41 L129.10,235.43 L129.50,239.60 L129.90,240.11 L130.30,239.45 L130.70,239.82 L131.10,238.06 L131.50,237.19 L131.90,235.90 L132.30,235.66 L132.70,236.46 L133.10,235.57 L133.50,236.36 L133.90,235.86 L134.30,235.89 L134.70,236.42 L135.10,234.79 L135.50,234.40 L135.90,227.85 L136.30,221.83 L136.70,225.30 L137.10,226.64 L137.50,224.84 L137.90,222.49 L138.30,222.76 L138.70,224.37 L139.10,223.92 L139.50,220.96 L139.90,221.80 L140.30,222.33 L140.70,222.40 L141.10,218.52 L141.50,214.64 L141.90,216.38 L142.30,220.89 L142.70,222.36 L143.10,221.83 L143.50,219.29 L143.90,220.15 L144.30,220.45 L144.70,220.59 L145.10,219.81 L145.50,220.48 L145.90,218.59 L146.30,218.54 L146.70,222.47 L147.10,226.58 L147.50,230.17 L147.90,232.56 L148.30,234.61 L148.70,235.36 L149.10,236.45 L149.50,238.23 L149.90,240.27 L150.30,241.86 L150.70,245.62 L151.10,251.17 L151.50,256.60 L151.90,258.23 L152.30,259.30 L152.70,260.61 L153.10,261.57 L153.50,262.20 L153.90,263.11 L154.30,263.66 L154.70,263.95 L155.10,264.50 L155.50,265.12 L155.90,266.47 L156.30,266.86 L156.70,267.53 L157.10,267.25 L157.50,268.21 L157.90,268.56 L158.30,269.23 L158.70,269.02 L159.10,269.58 L159.50,268.85 L159.90,269.24 L160.30,269.40 L160.70,269.54 L161.10,269.42 L161.50,269.41 L161.90,269.49 L162.30,269.60 L162.70,269.16 L163.10,269.44 L163.50,269.60 L163.90,269.60 L164.30,269.26 L164.70,269.57 L165.10,269.60 L165.50,269.41 L165.90,269.47 L166.30,269.28 L166.70,269.45 L167.10,269.49 L167.50,269.07 L167.90,269.53 L168.30,269.60 L168.70,269.60 L169.10,269.60 L169.50,269.37 L169.90,269.60 L170.30,269.55 L170.70,269.45 L171.10,269.60 L171.50,269.19 L171.90,269.60 L172.30,269.16 L172.70,269.60 L173.10,269.55 L173.50,269.36 L173.90,269.60 L174.30,269.59 L174.70,269.60 L175.10,269.60 L175.50,269.43 L175.90,269.25 L176.30,269.49 L176.70,269.60 L177.10,269.43 L177.50,269.42 L177.90,269.60 L178.30,269.60 L178.70,269.60 L179.10,269.60 L179.50,269.60 L179.8,269.6 Z"/></clipPath>
<line x1="131.4" y1="233.8" x2="164.2" y2="233.8" stroke="#383838" stroke-width="1.4"/>
<line x1="131.4" y1="233.8" x2="164.2" y2="233.8" stroke="#8c8c8c" stroke-width="1.4" clip-path="url(#hc0)"/>
<clipPath id="hc1"><path d="M188.1,269.6 L188.10,233.05 L188.50,232.68 L188.90,233.83 L189.30,232.60 L189.70,234.14 L190.10,234.28 L190.50,234.27 L190.90,236.06 L191.30,235.82 L191.70,235.65 L192.10,233.81 L192.50,232.68 L192.90,232.09 L193.30,231.66 L193.70,229.80 L194.10,229.71 L194.50,230.91 L194.90,232.13 L195.30,230.85 L195.70,227.01 L196.10,224.85 L196.50,223.96 L196.90,228.43 L197.30,226.38 L197.70,225.26 L198.10,224.26 L198.50,223.60 L198.90,223.64 L199.30,223.13 L199.70,224.90 L200.10,224.86 L200.50,223.75 L200.90,223.42 L201.30,221.04 L201.70,219.71 L202.10,218.72 L202.50,220.54 L202.90,221.45 L203.30,221.79 L203.70,222.11 L204.10,221.54 L204.50,218.56 L204.90,217.01 L205.30,217.19 L205.70,219.62 L206.10,221.59 L206.50,222.01 L206.90,223.04 L207.30,222.19 L207.70,220.70 L208.10,221.80 L208.50,219.50 L208.90,219.76 L209.30,219.65 L209.70,216.99 L210.10,216.42 L210.50,217.74 L210.90,221.43 L211.30,222.44 L211.70,222.30 L212.10,223.25 L212.50,222.11 L212.90,222.45 L213.30,221.74 L213.70,221.22 L214.10,221.09 L214.50,222.09 L214.90,222.47 L215.30,221.58 L215.70,223.23 L216.10,223.14 L216.50,225.78 L216.90,224.97 L217.30,224.41 L217.70,223.18 L218.10,222.52 L218.50,223.26 L218.90,223.71 L219.30,221.89 L219.70,222.46 L220.10,222.08 L220.50,222.91 L220.90,223.73 L221.30,226.23 L221.70,224.30 L222.10,224.04 L222.50,223.83 L222.90,225.87 L223.30,225.61 L223.70,227.89 L224.10,229.58 L224.50,231.78 L224.90,232.01 L225.30,232.48 L225.70,231.57 L226.10,231.35 L226.50,229.81 L226.90,229.55 L227.30,228.71 L227.70,227.17 L228.10,227.47 L228.50,228.85 L228.90,230.45 L229.30,231.68 L229.70,229.79 L230.10,226.96 L230.50,230.57 L230.90,236.20 L231.30,237.25 L231.70,238.84 L232.10,240.86 L232.50,241.70 L232.90,242.19 L233.30,243.17 L233.70,244.08 L234.10,243.78 L234.50,246.13 L234.90,246.75 L235.30,247.60 L235.70,247.98 L236.10,247.77 L236.50,248.36 L236.90,248.56 L237.30,250.24 L237.70,249.94 L238.10,250.67 L238.50,251.65 L238.90,252.21 L239.30,253.14 L239.70,253.23 L240.10,253.74 L240.50,254.62 L240.90,255.14 L241.30,256.21 L241.70,256.19 L242.10,258.31 L242.50,258.43 L242.90,258.18 L243.30,258.96 L243.70,259.72 L244.10,260.35 L244.50,260.50 L244.90,262.40 L245.30,263.25 L245.70,262.91 L246.10,263.56 L246.50,263.46 L246.90,264.11 L247.30,265.16 L247.70,265.64 L248.10,266.95 L248.50,266.04 L248.90,266.09 L249.30,268.05 L249.70,267.59 L250.10,267.38 L250.50,267.79 L250.90,267.74 L251.30,268.20 L251.70,268.64 L252.10,268.79 L252.50,268.92 L252.90,268.92 L253.30,269.18 L253.70,269.14 L254.10,269.45 L254.50,269.34 L254.90,269.47 L255.30,269.25 L255.70,269.20 L256.10,269.51 L256.50,269.60 L256.90,269.54 L257.30,269.53 L257.70,269.54 L258.10,269.51 L258.50,269.26 L258.90,269.41 L259.30,269.34 L259.70,269.18 L260.10,269.19 L260.50,269.32 L260.90,269.32 L261.30,269.54 L261.70,269.60 L262.10,269.44 L262.50,269.60 L262.90,269.60 L263.30,269.60 L263.70,269.42 L264.10,269.36 L264.50,269.37 L264.90,269.36 L265.30,269.37 L265.70,269.59 L266.10,269.60 L266.50,269.60 L266.90,269.54 L267.30,269.60 L267.70,269.60 L268.10,269.37 L268.50,269.60 L268.90,269.60 L269.30,269.60 L269.70,269.60 L270.10,269.60 L270.50,269.46 L270.90,269.60 L271.30,269.55 L271.70,269.60 L272.10,269.60 L272.50,269.60 L272.90,269.60 L273.30,269.60 L273.70,269.60 L274.10,269.52 L274.3,269.6 Z"/></clipPath>
<line x1="221.0" y1="233.6" x2="255.9" y2="233.6" stroke="#383838" stroke-width="1.4"/>
<line x1="221.0" y1="233.6" x2="255.9" y2="233.6" stroke="#8c8c8c" stroke-width="1.4" clip-path="url(#hc1)"/>
<clipPath id="hc2"><path d="M93.9,329.6 L93.90,305.25 L94.50,304.96 L95.10,303.89 L95.70,303.49 L96.30,302.77 L96.90,301.12 L97.50,300.29 L98.10,300.86 L98.70,299.02 L99.30,297.75 L99.90,297.73 L100.50,295.57 L101.10,294.74 L101.70,292.75 L102.30,292.05 L102.90,290.53 L103.50,290.56 L104.10,288.96 L104.70,286.18 L105.30,284.31 L105.90,283.21 L106.50,281.25 L107.10,281.44 L107.70,280.62 L108.30,279.87 L108.90,280.42 L109.50,282.75 L110.10,283.31 L110.70,285.29 L111.30,287.13 L111.90,288.28 L112.50,289.85 L113.10,290.24 L113.70,292.94 L114.30,294.82 L114.90,298.39 L115.50,301.15 L116.10,302.97 L116.70,306.14 L117.30,308.67 L117.90,312.26 L118.50,313.68 L119.10,315.58 L119.70,316.64 L120.30,318.37 L120.90,319.20 L121.50,320.17 L122.10,321.44 L122.70,322.20 L123.30,323.48 L123.90,323.88 L124.50,324.66 L125.10,324.84 L125.70,325.36 L126.30,324.69 L126.90,323.63 L127.50,324.50 L128.10,324.34 L128.70,323.52 L129.30,322.25 L129.90,321.75 L130.50,320.21 L131.10,320.44 L131.70,319.27 L132.30,318.05 L132.90,316.63 L133.50,316.52 L134.10,315.36 L134.70,311.98 L135.30,310.90 L135.90,308.05 L136.50,305.26 L137.10,303.09 L137.70,301.45 L138.30,298.19 L138.90,293.43 L139.50,290.73 L140.10,286.11 L140.70,283.69 L141.30,279.62 L141.90,278.93 L142.50,277.89 L143.10,276.42 L143.70,277.11 L144.30,278.96 L144.90,281.76 L145.50,286.91 L146.10,290.52 L146.70,295.75 L147.30,300.57 L147.90,304.90 L148.50,308.02 L149.10,311.55 L149.70,315.61 L150.30,316.97 L150.90,319.84 L151.50,321.36 L152.10,322.15 L152.70,323.56 L153.30,324.85 L153.90,326.25 L154.50,326.80 L155.10,327.37 L155.70,328.09 L156.30,329.11 L156.90,328.69 L157.50,328.84 L158.10,329.57 L158.70,329.07 L159.30,329.31 L159.90,329.60 L160.50,329.60 L161.10,329.60 L161.70,328.88 L162.30,329.53 L162.90,329.60 L163.50,328.92 L164.10,329.60 L164.70,329.60 L165.30,329.00 L165.90,329.60 L166.50,329.60 L167.10,329.60 L167.70,329.51 L168.30,329.60 L168.90,329.60 L169.50,329.00 L170.10,329.07 L170.70,329.60 L171.30,329.60 L171.90,329.40 L172.50,329.60 L173.10,329.60 L173.70,329.54 L174.30,329.60 L174.90,329.54 L175.50,329.60 L176.10,329.60 L176.70,329.55 L177.30,329.60 L177.90,329.60 L178.50,329.14 L179.10,329.60 L179.70,329.60 L179.8,329.6 Z"/></clipPath>
<line x1="129.2" y1="294.2" x2="161.6" y2="294.2" stroke="#383838" stroke-width="1.4"/>
<line x1="129.2" y1="294.2" x2="161.6" y2="294.2" stroke="#8c8c8c" stroke-width="1.4" clip-path="url(#hc2)"/>
<clipPath id="hc3"><path d="M188.1,329.6 L188.10,327.05 L188.70,327.37 L189.30,327.46 L189.90,327.74 L190.50,326.72 L191.10,327.04 L191.70,323.60 L192.30,324.84 L192.90,326.23 L193.50,324.91 L194.10,325.50 L194.70,322.52 L195.30,323.54 L195.90,322.53 L196.50,323.35 L197.10,323.23 L197.70,321.04 L198.30,321.52 L198.90,321.52 L199.50,323.52 L200.10,322.78 L200.70,320.43 L201.30,322.44 L201.90,319.92 L202.50,321.37 L203.10,319.43 L203.70,318.72 L204.30,321.47 L204.90,318.87 L205.50,318.60 L206.10,320.66 L206.70,319.65 L207.30,316.98 L207.90,318.82 L208.50,317.05 L209.10,317.25 L209.70,315.31 L210.30,317.52 L210.90,316.20 L211.50,316.72 L212.10,316.03 L212.70,313.27 L213.30,312.70 L213.90,311.22 L214.50,310.36 L215.10,309.84 L215.70,310.44 L216.30,311.26 L216.90,308.85 L217.50,310.56 L218.10,308.72 L218.70,307.97 L219.30,309.23 L219.90,307.78 L220.50,306.95 L221.10,307.26 L221.70,307.74 L222.30,305.12 L222.90,307.98 L223.50,304.29 L224.10,306.04 L224.70,305.48 L225.30,301.70 L225.90,303.51 L226.50,301.74 L227.10,302.20 L227.70,299.92 L228.30,299.45 L228.90,297.75 L229.50,298.29 L230.10,294.54 L230.70,295.40 L231.30,294.90 L231.90,291.84 L232.50,286.65 L233.10,283.63 L233.70,281.90 L234.30,281.93 L234.90,278.41 L235.50,278.80 L236.10,276.25 L236.70,276.49 L237.30,277.14 L237.90,278.96 L238.50,278.20 L239.10,280.22 L239.70,282.54 L240.30,286.33 L240.90,289.35 L241.50,293.70 L242.10,296.88 L242.70,300.10 L243.30,303.53 L243.90,306.42 L244.50,309.20 L245.10,311.89 L245.70,315.19 L246.30,318.35 L246.90,319.96 L247.50,322.28 L248.10,325.17 L248.70,326.03 L249.30,327.29 L249.90,327.72 L250.50,328.61 L251.10,329.36 L251.70,329.39 L252.30,329.36 L252.90,328.93 L253.50,329.60 L254.10,328.92 L254.70,329.48 L255.30,329.60 L255.90,329.07 L256.50,329.60 L257.10,329.60 L257.70,329.60 L258.30,329.60 L258.90,329.09 L259.50,329.50 L260.10,329.16 L260.70,329.60 L261.30,329.36 L261.90,329.56 L262.50,329.60 L263.10,329.60 L263.70,329.60 L264.30,329.60 L264.90,329.60 L265.50,329.60 L266.10,329.60 L266.70,329.45 L267.30,329.59 L267.90,329.30 L268.50,329.58 L269.10,329.60 L269.70,329.60 L270.30,329.60 L270.90,329.60 L271.50,329.59 L272.10,329.30 L272.70,329.53 L273.30,329.60 L273.90,329.60 L274.3,329.6 Z"/></clipPath>
<line x1="223.4" y1="294.1" x2="256.3" y2="294.1" stroke="#383838" stroke-width="1.4"/>
<line x1="223.4" y1="294.1" x2="256.3" y2="294.1" stroke="#8c8c8c" stroke-width="1.4" clip-path="url(#hc3)"/>
<text x="337.10" y="214.19" font-family='"Liberation Sans", sans-serif' font-size="11.16" font-weight="normal" fill="#000" textLength="16.50" lengthAdjust="spacingAndGlyphs"  stroke="#000" stroke-width="0.15" stroke-linejoin="round">0.7</text>
<text x="337.10" y="233.39" font-family='"Liberation Sans", sans-serif' font-size="10.88" font-weight="normal" fill="#000" textLength="16.50" lengthAdjust="spacingAndGlyphs"  stroke="#000" stroke-width="0.15" stroke-linejoin="round">0.4</text>
<text x="337.10" y="253.89" font-family='"Liberation Sans", sans-serif' font-size="11.02" font-weight="normal" fill="#000" textLength="16.50" lengthAdjust="spacingAndGlyphs"  stroke="#000" stroke-width="0.15" stroke-linejoin="round">0.1</text>
<line x1="356.40" y1="210.40" x2="356.40" y2="256.80" stroke="#000" stroke-width="1.3" />
<line x1="355.80" y1="256.30" x2="425.80" y2="256.30" stroke="#000" stroke-width="1.3" />
<rect x="367.80" y="227.80" width="15.40" height="28.50" fill="#fff" stroke="#000" stroke-width="1.2"/>
<line x1="374.80" y1="227.30" x2="374.80" y2="216.50" stroke="#000" stroke-width="1.3" />
<line x1="373.20" y1="216.60" x2="376.50" y2="216.60" stroke="#000" stroke-width="1.3" />
<rect x="398.40" y="253.00" width="15.40" height="3.30" fill="#000"/>
<line x1="406.20" y1="253.00" x2="406.20" y2="251.20" stroke="#000" stroke-width="1.2" />
<line x1="404.50" y1="251.30" x2="408.00" y2="251.30" stroke="#000" stroke-width="1.2" />
<text x="423.40" y="222.66" font-family='"Liberation Sans", sans-serif' font-size="11.25" font-weight="normal" fill="#000" textLength="47.41" lengthAdjust="spacingAndGlyphs"  stroke="#000" stroke-width="0.15" stroke-linejoin="round">12.5 dpc</text>
<text x="340.90" y="288.39" font-family='"Liberation Sans", sans-serif' font-size="11.44" font-weight="normal" fill="#000" textLength="12.80" lengthAdjust="spacingAndGlyphs"  stroke="#000" stroke-width="0.15" stroke-linejoin="round">40</text>
<text x="340.90" y="299.89" font-family='"Liberation Sans", sans-serif' font-size="10.88" font-weight="normal" fill="#000" textLength="12.80" lengthAdjust="spacingAndGlyphs"  stroke="#000" stroke-width="0.15" stroke-linejoin="round">30</text>
<text x="340.90" y="312.08" font-family='"Liberation Sans", sans-serif' font-size="11.86" font-weight="normal" fill="#000" textLength="12.80" lengthAdjust="spacingAndGlyphs"  stroke="#000" stroke-width="0.15" stroke-linejoin="round">20</text>
<text x="340.90" y="324.28" font-family='"Liberation Sans", sans-serif' font-size="11.86" font-weight="normal" fill="#000" textLength="12.80" lengthAdjust="spacingAndGlyphs"  stroke="#000" stroke-width="0.15" stroke-linejoin="round">10</text>
<line x1="356.60" y1="284.60" x2="356.60" y2="331.80" stroke="#000" stroke-width="1.3" />
<line x1="356.00" y1="331.20" x2="425.50" y2="331.20" stroke="#000" stroke-width="1.3" />
<rect x="367.80" y="317.30" width="15.70" height="13.90" fill="#fff" stroke="#000" stroke-width="1.2"/>
<line x1="375.80" y1="317.00" x2="375.80" y2="309.30" stroke="#000" stroke-width="1.3" />
<line x1="374.20" y1="309.40" x2="377.80" y2="309.40" stroke="#000" stroke-width="1.3" />
<rect x="398.80" y="299.90" width="15.40" height="31.30" fill="#000"/>
<line x1="407.00" y1="300.00" x2="407.00" y2="290.50" stroke="#000" stroke-width="1.3" />
<line x1="405.00" y1="290.60" x2="408.80" y2="290.60" stroke="#000" stroke-width="1.3" />
<text x="367.30" y="343.56" font-family='"Liberation Sans", sans-serif' font-size="11.81" font-weight="bold" fill="#000" textLength="17.70" lengthAdjust="spacingAndGlyphs" >+/+</text>
<text x="396.50" y="343.57" font-family='"Liberation Sans", sans-serif' font-size="11.54" font-weight="bold" fill="#000" textLength="21.51" lengthAdjust="spacingAndGlyphs" >G/G</text>
<text x="423.80" y="296.81" font-family='"Liberation Sans", sans-serif' font-size="11.47" font-weight="normal" fill="#000" textLength="47.01" lengthAdjust="spacingAndGlyphs"  stroke="#000" stroke-width="0.15" stroke-linejoin="round">16.5 dpc</text>
<g transform="translate(327.6,342.9) rotate(-90)">
<text x="0" y="0" font-family='"Liberation Sans", sans-serif' font-size="11.9" textLength="143.6" lengthAdjust="spacingAndGlyphs">TER119<tspan font-size="9" dy="-4.6">+</tspan><tspan dy="4.6"> cells / FL (x10</tspan><tspan font-size="9" dy="-4.6">6</tspan><tspan dy="4.6">)</tspan></text>
</g>
<text x="2.50" y="414.95" font-family='"Liberation Sans", sans-serif' font-size="25.28" font-weight="bold" fill="#000" textLength="15.70" lengthAdjust="spacingAndGlyphs" >C</text>
<line x1="68.50" y1="404.80" x2="68.50" y2="529.80" stroke="#000" stroke-width="2.3" />
<line x1="66.70" y1="528.70" x2="234.40" y2="528.70" stroke="#000" stroke-width="2.3" />
<line x1="66.20" y1="405.40" x2="68.50" y2="405.40" stroke="#000" stroke-width="1.5" />
<line x1="66.20" y1="405.50" x2="68.50" y2="405.50" stroke="#000" stroke-width="1.5" />
<text x="59.30" y="409.50" font-family='"Liberation Sans", sans-serif' font-size="10.17" font-weight="normal" fill="#000" textLength="6.20" lengthAdjust="spacingAndGlyphs"  stroke="#000" stroke-width="0.15" stroke-linejoin="round">6</text>
<line x1="66.20" y1="467.00" x2="68.50" y2="467.00" stroke="#000" stroke-width="1.5" />
<text x="58.80" y="470.29" font-family='"Liberation Sans", sans-serif' font-size="10.88" font-weight="normal" fill="#000" textLength="6.20" lengthAdjust="spacingAndGlyphs"  stroke="#000" stroke-width="0.15" stroke-linejoin="round">3</text>
<line x1="66.20" y1="508.10" x2="68.50" y2="508.10" stroke="#000" stroke-width="1.5" />
<text x="60.40" y="510.80" font-family='"Liberation Sans", sans-serif' font-size="10.47" font-weight="normal" fill="#000" textLength="3.60" lengthAdjust="spacingAndGlyphs"  stroke="#000" stroke-width="0.15" stroke-linejoin="round">1</text>
<line x1="66.30" y1="426.00" x2="68.50" y2="426.00" stroke="#000" stroke-width="1.5" />
<line x1="66.30" y1="446.50" x2="68.50" y2="446.50" stroke="#000" stroke-width="1.5" />
<line x1="66.30" y1="487.60" x2="68.50" y2="487.60" stroke="#000" stroke-width="1.5" />
<text x="76.10" y="542.38" font-family='"Liberation Sans", sans-serif' font-size="12.18" font-weight="normal" fill="#000" textLength="22.80" lengthAdjust="spacingAndGlyphs"  stroke="#000" stroke-width="0.15" stroke-linejoin="round">11.5</text>
<text x="107.50" y="542.38" font-family='"Liberation Sans", sans-serif' font-size="12.01" font-weight="normal" fill="#000" textLength="23.00" lengthAdjust="spacingAndGlyphs"  stroke="#000" stroke-width="0.15" stroke-linejoin="round">12.5</text>
<text x="141.00" y="542.38" font-family='"Liberation Sans", sans-serif' font-size="12.01" font-weight="normal" fill="#000" textLength="22.80" lengthAdjust="spacingAndGlyphs"  stroke="#000" stroke-width="0.15" stroke-linejoin="round">13.5</text>
<text x="173.60" y="542.38" font-family='"Liberation Sans", sans-serif' font-size="12.18" font-weight="normal" fill="#000" textLength="22.60" lengthAdjust="spacingAndGlyphs"  stroke="#000" stroke-width="0.15" stroke-linejoin="round">15.5</text>
<text x="207.50" y="541.78" font-family='"Liberation Sans", sans-serif' font-size="12.03" font-weight="normal" fill="#000" textLength="23.10" lengthAdjust="spacingAndGlyphs"  stroke="#000" stroke-width="0.15" stroke-linejoin="round">17.5</text>
<text x="234.00" y="541.75" font-family='"Liberation Sans", sans-serif' font-size="11.79" font-weight="normal" fill="#000" textLength="20.20" lengthAdjust="spacingAndGlyphs"  stroke="#000" stroke-width="0.15" stroke-linejoin="round">dpc</text>
<g transform="translate(51.7,532.6) rotate(-90)">
<text x="0" y="0" font-family='"Liberation Sans", sans-serif' font-size="12.6" textLength="131.5" lengthAdjust="spacingAndGlyphs">CFC-mix-ery/ FL (x10<tspan font-size="9.2" dy="-4.4">4</tspan><tspan dy="4.4">)</tspan></text>
</g>
<line x1="314.30" y1="405.00" x2="314.30" y2="530.20" stroke="#000" stroke-width="2.3" />
<line x1="312.50" y1="529.10" x2="482.30" y2="529.10" stroke="#000" stroke-width="2.3" />
<line x1="312.00" y1="405.60" x2="314.30" y2="405.60" stroke="#000" stroke-width="1.5" />
<line x1="312.00" y1="405.50" x2="314.30" y2="405.50" stroke="#000" stroke-width="1.5" />
<text x="298.30" y="409.29" font-family='"Liberation Sans", sans-serif' font-size="10.59" font-weight="normal" fill="#000" textLength="11.90" lengthAdjust="spacingAndGlyphs"  stroke="#000" stroke-width="0.15" stroke-linejoin="round">10</text>
<line x1="312.00" y1="455.10" x2="314.30" y2="455.10" stroke="#000" stroke-width="1.5" />
<text x="303.30" y="458.69" font-family='"Liberation Sans", sans-serif' font-size="11.3" font-weight="normal" fill="#000" textLength="6.40" lengthAdjust="spacingAndGlyphs"  stroke="#000" stroke-width="0.15" stroke-linejoin="round">6</text>
<line x1="312.00" y1="504.60" x2="314.30" y2="504.60" stroke="#000" stroke-width="1.5" />
<text x="304.00" y="507.80" font-family='"Liberation Sans", sans-serif' font-size="11.89" font-weight="normal" fill="#000" textLength="5.70" lengthAdjust="spacingAndGlyphs"  stroke="#000" stroke-width="0.15" stroke-linejoin="round">2</text>
<line x1="312.10" y1="417.90" x2="314.30" y2="417.90" stroke="#000" stroke-width="1.5" />
<line x1="312.10" y1="430.30" x2="314.30" y2="430.30" stroke="#000" stroke-width="1.5" />
<line x1="312.10" y1="442.70" x2="314.30" y2="442.70" stroke="#000" stroke-width="1.5" />
<line x1="312.10" y1="467.50" x2="314.30" y2="467.50" stroke="#000" stroke-width="1.5" />
<line x1="312.10" y1="479.90" x2="314.30" y2="479.90" stroke="#000" stroke-width="1.5" />
<line x1="312.10" y1="492.20" x2="314.30" y2="492.20" stroke="#000" stroke-width="1.5" />
<line x1="312.10" y1="516.90" x2="314.30" y2="516.90" stroke="#000" stroke-width="1.5" />
<text x="320.40" y="541.98" font-family='"Liberation Sans", sans-serif' font-size="12.46" font-weight="normal" fill="#000" textLength="23.10" lengthAdjust="spacingAndGlyphs"  stroke="#000" stroke-width="0.15" stroke-linejoin="round">11.5</text>
<text x="354.70" y="541.98" font-family='"Liberation Sans", sans-serif' font-size="12.29" font-weight="normal" fill="#000" textLength="22.90" lengthAdjust="spacingAndGlyphs"  stroke="#000" stroke-width="0.15" stroke-linejoin="round">12.5</text>
<text x="389.00" y="541.78" font-family='"Liberation Sans", sans-serif' font-size="12.43" font-weight="normal" fill="#000" textLength="22.90" lengthAdjust="spacingAndGlyphs"  stroke="#000" stroke-width="0.15" stroke-linejoin="round">13.5</text>
<text x="421.30" y="541.77" font-family='"Liberation Sans", sans-serif' font-size="12.61" font-weight="normal" fill="#000" textLength="22.90" lengthAdjust="spacingAndGlyphs"  stroke="#000" stroke-width="0.15" stroke-linejoin="round">15.5</text>
<text x="456.10" y="541.77" font-family='"Liberation Sans", sans-serif' font-size="12.61" font-weight="normal" fill="#000" textLength="22.80" lengthAdjust="spacingAndGlyphs"  stroke="#000" stroke-width="0.15" stroke-linejoin="round">17.5</text>
<text x="486.30" y="541.40" font-family='"Liberation Sans", sans-serif' font-size="12.0" font-weight="normal" fill="#000" textLength="19.60" lengthAdjust="spacingAndGlyphs"  stroke="#000" stroke-width="0.15" stroke-linejoin="round">dpc</text>
<g transform="translate(293.4,517.0) rotate(-90)">
<text x="0" y="0" font-family='"Liberation Sans", sans-serif' font-size="12.0" textLength="101.2" lengthAdjust="spacingAndGlyphs">CFU-E / FL (x10<tspan font-size="9.2" dy="-4.4">5</tspan><tspan dy="4.4">)</tspan></text>
</g>
<path d="M85.7,526.4 L118.9,522.8 L151.3,514.3 L184.4,484.8 L217.3,444.7" fill="none" stroke="#000" stroke-width="1.3" />
<path d="M85.7,523.8 L118.9,519.6 L151.6,522.1 L184.7,512.3 L217.6,511.1" fill="none" stroke="#000" stroke-width="1.3" />
<line x1="151.30" y1="514.30" x2="151.30" y2="508.60" stroke="#000" stroke-width="1.1" />
<line x1="149.60" y1="508.60" x2="153.00" y2="508.60" stroke="#000" stroke-width="1.1" />
<line x1="184.40" y1="484.80" x2="184.40" y2="473.40" stroke="#000" stroke-width="1.1" />
<line x1="182.70" y1="473.40" x2="186.10" y2="473.40" stroke="#000" stroke-width="1.1" />
<line x1="217.30" y1="444.70" x2="217.30" y2="424.20" stroke="#000" stroke-width="1.1" />
<line x1="215.60" y1="424.20" x2="219.00" y2="424.20" stroke="#000" stroke-width="1.1" />
<line x1="184.70" y1="512.30" x2="184.70" y2="519.70" stroke="#000" stroke-width="1.1" />
<line x1="183.00" y1="519.70" x2="186.40" y2="519.70" stroke="#000" stroke-width="1.1" />
<line x1="217.60" y1="511.10" x2="217.60" y2="518.90" stroke="#000" stroke-width="1.1" />
<line x1="215.90" y1="518.90" x2="219.30" y2="518.90" stroke="#000" stroke-width="1.1" />
<line x1="118.90" y1="519.60" x2="118.90" y2="517.50" stroke="#000" stroke-width="1.1" />
<line x1="117.20" y1="517.50" x2="120.60" y2="517.50" stroke="#000" stroke-width="1.1" />
<circle cx="85.7" cy="526.4" r="2.2" fill="#fff" stroke="#000" stroke-width="1"/>
<circle cx="118.9" cy="522.8" r="2.2" fill="#fff" stroke="#000" stroke-width="1"/>
<circle cx="151.3" cy="514.3" r="2.2" fill="#fff" stroke="#000" stroke-width="1"/>
<circle cx="184.4" cy="484.8" r="2.2" fill="#fff" stroke="#000" stroke-width="1"/>
<circle cx="217.3" cy="444.7" r="2.2" fill="#fff" stroke="#000" stroke-width="1"/>
<rect x="83.50" y="521.60" width="4.40" height="4.40" fill="#000"/>
<rect x="116.70" y="517.40" width="4.40" height="4.40" fill="#000"/>
<rect x="149.40" y="519.90" width="4.40" height="4.40" fill="#000"/>
<rect x="182.50" y="510.10" width="4.40" height="4.40" fill="#000"/>
<rect x="215.40" y="508.90" width="4.40" height="4.40" fill="#000"/>
<rect x="86.50" y="421.90" width="45.80" height="68.50" fill="#fff" stroke="#000" stroke-width="1.3"/>
<line x1="95.80" y1="439.20" x2="95.80" y2="424.20" stroke="#000" stroke-width="1.1" />
<line x1="94.30" y1="424.20" x2="97.30" y2="424.20" stroke="#000" stroke-width="1.1" />
<line x1="95.80" y1="439.20" x2="95.80" y2="453.50" stroke="#000" stroke-width="1.1" />
<line x1="94.30" y1="453.50" x2="97.30" y2="453.50" stroke="#000" stroke-width="1.1" />
<rect x="93.80" y="437.20" width="4.00" height="4.00" fill="#000"/>
<line x1="95.80" y1="478.80" x2="95.80" y2="471.20" stroke="#000" stroke-width="1.1" />
<line x1="94.30" y1="471.20" x2="97.30" y2="471.20" stroke="#000" stroke-width="1.1" />
<line x1="95.80" y1="478.80" x2="95.80" y2="487.30" stroke="#000" stroke-width="1.1" />
<line x1="94.30" y1="487.30" x2="97.30" y2="487.30" stroke="#000" stroke-width="1.1" />
<circle cx="95.8" cy="478.8" r="1.6" fill="#fff" stroke="#000" stroke-width="1"/>
<text x="101.20" y="441.78" font-family='"Liberation Sans", sans-serif' font-size="12.29" font-weight="normal" fill="#000" textLength="27.30" lengthAdjust="spacingAndGlyphs"  stroke="#000" stroke-width="0.15" stroke-linejoin="round">2375</text>
<text x="101.20" y="482.58" font-family='"Liberation Sans", sans-serif' font-size="12.01" font-weight="normal" fill="#000" textLength="26.10" lengthAdjust="spacingAndGlyphs"  stroke="#000" stroke-width="0.15" stroke-linejoin="round">1290</text>
<path d="M82.6,518.8 C76.0,508 76.5,495 82.0,488.3" fill="none" stroke="#000" stroke-width="1.2" />
<path d="M85.3,485.0 L79.9,486.8 L83.1,490.2 Z" fill="#000" stroke="none" stroke-width="1" />
<circle cx="159.8" cy="406.5" r="2.8" fill="#fff" stroke="#000" stroke-width="1.3"/>
<text x="168.30" y="410.16" font-family='"Liberation Sans", sans-serif' font-size="12.21" font-weight="bold" fill="#000" textLength="17.30" lengthAdjust="spacingAndGlyphs" >+/+</text>
<rect x="156.60" y="417.40" width="6.60" height="6.60" fill="#000"/>
<text x="168.30" y="424.27" font-family='"Liberation Sans", sans-serif' font-size="11.41" font-weight="bold" fill="#000" textLength="21.61" lengthAdjust="spacingAndGlyphs" >G/G</text>
<path d="M331.7,523.3 L365.0,510.8 L398.2,505.6 L431.4,495.0 L464.0,477.0" fill="none" stroke="#000" stroke-width="1.3" />
<path d="M331.7,526.7 L365.0,520.0 L398.2,495.0 L431.4,468.2 L464.0,432.3" fill="none" stroke="#000" stroke-width="1.3" />
<line x1="365.00" y1="510.80" x2="365.00" y2="508.80" stroke="#000" stroke-width="1.1" />
<line x1="363.30" y1="508.80" x2="366.70" y2="508.80" stroke="#000" stroke-width="1.1" />
<line x1="398.20" y1="505.60" x2="398.20" y2="503.00" stroke="#000" stroke-width="1.1" />
<line x1="396.50" y1="503.00" x2="399.90" y2="503.00" stroke="#000" stroke-width="1.1" />
<line x1="431.40" y1="495.00" x2="431.40" y2="490.90" stroke="#000" stroke-width="1.1" />
<line x1="429.70" y1="490.90" x2="433.10" y2="490.90" stroke="#000" stroke-width="1.1" />
<line x1="464.00" y1="477.00" x2="464.00" y2="470.10" stroke="#000" stroke-width="1.1" />
<line x1="462.30" y1="470.10" x2="465.70" y2="470.10" stroke="#000" stroke-width="1.1" />
<line x1="398.20" y1="495.00" x2="398.20" y2="480.80" stroke="#000" stroke-width="1.1" />
<line x1="396.50" y1="480.80" x2="399.90" y2="480.80" stroke="#000" stroke-width="1.1" />
<line x1="431.40" y1="468.20" x2="431.40" y2="450.20" stroke="#000" stroke-width="1.1" />
<line x1="429.70" y1="450.20" x2="433.10" y2="450.20" stroke="#000" stroke-width="1.1" />
<line x1="464.00" y1="432.30" x2="464.00" y2="415.20" stroke="#000" stroke-width="1.1" />
<line x1="462.30" y1="415.20" x2="465.70" y2="415.20" stroke="#000" stroke-width="1.1" />
<line x1="365.00" y1="520.00" x2="365.00" y2="517.20" stroke="#000" stroke-width="1.1" />
<line x1="363.30" y1="517.20" x2="366.70" y2="517.20" stroke="#000" stroke-width="1.1" />
<circle cx="331.7" cy="523.3" r="2.2" fill="#fff" stroke="#000" stroke-width="1"/>
<circle cx="365.0" cy="510.8" r="2.2" fill="#fff" stroke="#000" stroke-width="1"/>
<circle cx="398.2" cy="505.6" r="2.2" fill="#fff" stroke="#000" stroke-width="1"/>
<circle cx="431.4" cy="495.0" r="2.2" fill="#fff" stroke="#000" stroke-width="1"/>
<circle cx="464.0" cy="477.0" r="2.2" fill="#fff" stroke="#000" stroke-width="1"/>
<rect x="329.50" y="524.50" width="4.40" height="4.40" fill="#000"/>
<rect x="362.80" y="517.80" width="4.40" height="4.40" fill="#000"/>
<rect x="396.00" y="492.80" width="4.40" height="4.40" fill="#000"/>
<rect x="429.20" y="466.00" width="4.40" height="4.40" fill="#000"/>
<rect x="461.80" y="430.10" width="4.40" height="4.40" fill="#000"/>
<rect x="330.90" y="420.10" width="53.20" height="67.70" fill="#fff" stroke="#000" stroke-width="1.3"/>
<line x1="337.30" y1="438.50" x2="337.30" y2="428.60" stroke="#000" stroke-width="1.1" />
<line x1="335.80" y1="428.60" x2="338.80" y2="428.60" stroke="#000" stroke-width="1.1" />
<line x1="337.30" y1="438.50" x2="337.30" y2="448.30" stroke="#000" stroke-width="1.1" />
<line x1="335.80" y1="448.30" x2="338.80" y2="448.30" stroke="#000" stroke-width="1.1" />
<circle cx="337.3" cy="438.5" r="1.6" fill="#fff" stroke="#000" stroke-width="1"/>
<line x1="337.30" y1="477.00" x2="337.30" y2="473.60" stroke="#000" stroke-width="1.1" />
<line x1="336.00" y1="473.60" x2="338.60" y2="473.60" stroke="#000" stroke-width="1.1" />
<line x1="337.30" y1="477.00" x2="337.30" y2="480.40" stroke="#000" stroke-width="1.1" />
<line x1="336.00" y1="480.40" x2="338.60" y2="480.40" stroke="#000" stroke-width="1.1" />
<rect x="336.00" y="475.70" width="2.60" height="2.60" fill="#000"/>
<text x="342.20" y="441.38" font-family='"Liberation Sans", sans-serif' font-size="11.86" font-weight="normal" fill="#000" textLength="13.30" lengthAdjust="spacingAndGlyphs"  stroke="#000" stroke-width="0.15" stroke-linejoin="round">49</text>
<text x="357.80" y="441.38" font-family='"Liberation Sans", sans-serif' font-size="11.86" font-weight="normal" fill="#000" textLength="21.01" lengthAdjust="spacingAndGlyphs"  stroke="#000" stroke-width="0.15" stroke-linejoin="round">400</text>
<text x="343.20" y="480.40" font-family='"Liberation Sans", sans-serif' font-size="12.18" font-weight="normal" fill="#000" textLength="11.80" lengthAdjust="spacingAndGlyphs"  stroke="#000" stroke-width="0.15" stroke-linejoin="round">12</text>
<text x="357.60" y="480.28" font-family='"Liberation Sans", sans-serif' font-size="12.01" font-weight="normal" fill="#000" textLength="21.21" lengthAdjust="spacingAndGlyphs"  stroke="#000" stroke-width="0.15" stroke-linejoin="round">900</text>
<path d="M327.6,518.8 C321.5,510 320.5,498 326.0,491.6" fill="none" stroke="#000" stroke-width="1.2" />
<path d="M330.9,488.1 L325.0,489.6 L327.4,493.6 Z" fill="#000" stroke="none" stroke-width="1" />
<circle cx="405.8" cy="406.3" r="2.8" fill="#fff" stroke="#000" stroke-width="1.3"/>
<text x="413.80" y="409.97" font-family='"Liberation Sans", sans-serif' font-size="11.68" font-weight="bold" fill="#000" textLength="17.30" lengthAdjust="spacingAndGlyphs" >+/+</text>
<rect x="402.40" y="417.10" width="6.80" height="6.80" fill="#000"/>
<text x="414.00" y="424.27" font-family='"Liberation Sans", sans-serif' font-size="11.41" font-weight="bold" fill="#000" textLength="21.91" lengthAdjust="spacingAndGlyphs" >G/G</text>

<text x="151.80" y="226.77" font-family='"Liberation Sans", sans-serif' font-size="12.64" font-weight="normal" fill="#000" textLength="23.91" lengthAdjust="spacingAndGlyphs"  stroke="#000" stroke-width="0.15" stroke-linejoin="round">51%</text>
<text x="244.90" y="226.88" font-family='"Liberation Sans", sans-serif' font-size="12.15" font-weight="normal" fill="#000" textLength="24.41" lengthAdjust="spacingAndGlyphs"  stroke="#000" stroke-width="0.15" stroke-linejoin="round">31%</text>
<text x="149.30" y="288.08" font-family='"Liberation Sans", sans-serif' font-size="12.29" font-weight="normal" fill="#000" textLength="24.51" lengthAdjust="spacingAndGlyphs"  stroke="#000" stroke-width="0.15" stroke-linejoin="round">38%</text>
<text x="243.80" y="286.93" font-family='"Liberation Sans", sans-serif' font-size="12.22" font-weight="normal" fill="#000" textLength="24.41" lengthAdjust="spacingAndGlyphs"  stroke="#000" stroke-width="0.15" stroke-linejoin="round">72%</text>
</svg></body></html>
